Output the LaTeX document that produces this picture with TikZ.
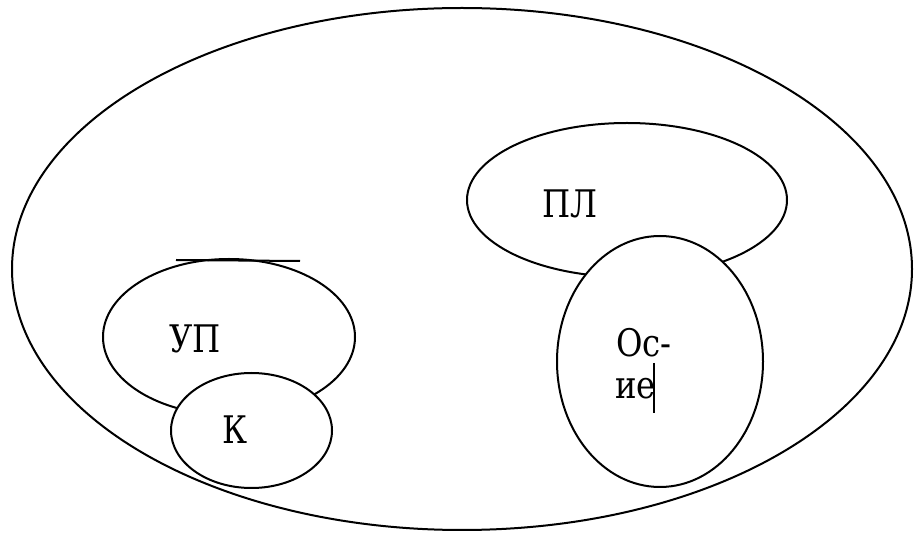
\documentclass[tikz,border=0pt]{standalone}
\usepackage{fontspec}
\newfontfamily\serfont{DejaVu Serif}
\usetikzlibrary{shapes.geometric}
\begin{document}
\begin{tikzpicture}[x=1pt,y=-1pt,
  set/.style={draw=black,line width=2pt,ellipse,inner sep=0pt,fill=white},
  lbl/.style={inner sep=0pt,font=\serfont\fontsize{38}{42}\selectfont}]
\useasboundingbox (0,0) rectangle (914,534);
\fill[white] (0,0) rectangle (914,534);
\node[set,minimum width=900pt,minimum height=522pt] (outer) at (462,269) {};
\node[set,minimum width=320pt,minimum height=154pt] (pl) at (627,200) {};
\node[set,minimum width=206pt,minimum height=251pt] (os) at (660,361.5) {};
\node[set,minimum width=252pt,minimum height=156pt] (up) at (229,337) {};
\node[set,minimum width=161pt,minimum height=115pt] (k) at (251.5,430.5) {};
\coordinate (m1) at (176,260);
\coordinate (m2) at (300,261);
\draw[line width=2pt] (m1) -- (m2);
\node[lbl,anchor=base] (tup) at (195,353) {\scalebox{0.85}[1]{УП}};
\node[lbl,anchor=base] (tk) at (235,444) {\scalebox{0.85}[1]{К}};
\node[lbl,anchor=base] (tpl) at (570,218) {\scalebox{0.85}[1]{ПЛ}};
\node[lbl,anchor=base west] (tos) at (616,357) {\scalebox{0.85}[1]{Ос-}};
\node[lbl,anchor=base west] (tie) at (615,399) {\scalebox{0.85}[1]{ие}};
\coordinate (c1) at (654,363);
\coordinate (c2) at (654,413);
\draw[line width=1.6pt] (c1) -- (c2);
\end{tikzpicture}
\end{document}
